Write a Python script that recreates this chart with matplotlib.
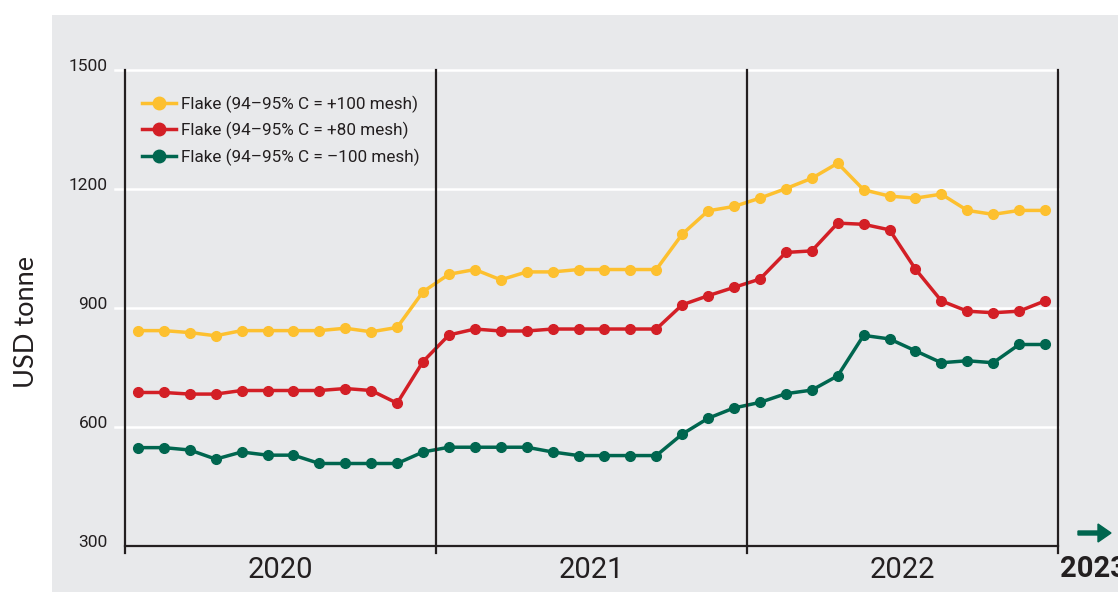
import numpy as np
import matplotlib.pyplot as plt
from matplotlib import font_manager
from matplotlib.patches import Rectangle, FancyArrow
from matplotlib.transforms import blended_transform_factory

# monthly prices, Jan 2020 .. Dec 2022 (USD / tonne)
years = ["2020", "2021", "2022"]
flake_100 = [843, 843, 838, 830, 843, 843, 843, 843, 849, 840, 851, 941,
             985, 997, 971, 991, 991, 997, 997, 997, 997, 1086, 1145, 1156,
             1177, 1201, 1227, 1265, 1198, 1182, 1177, 1187, 1146, 1136, 1146, 1146]
flake_80 = [687, 687, 683, 683, 692, 692, 692, 692, 697, 692, 660, 765,
            832, 847, 842, 842, 847, 847, 847, 847, 847, 908, 931, 952,
            973, 1040, 1044, 1114, 1111, 1097, 998, 918, 892, 888, 892, 918]
flake_m100 = [548, 548, 542, 519, 537, 529, 529, 508, 508, 508, 508, 537,
              549, 549, 549, 549, 537, 528, 528, 528, 528, 582, 622, 648,
              662, 684, 693, 729, 831, 822, 792, 762, 767, 762, 808, 808]
labels = ["Flake (94\u201395% C = +100 mesh)",
          "Flake (94\u201395% C = +80 mesh)",
          "Flake (94\u201395% C = \u2013100 mesh)"]
colors = ["#fdc02f", "#d31f26", "#00664f"]
yticks = [300, 600, 900, 1200, 1500]

names = {f.name for f in font_manager.fontManager.ttflist}
narrow = "Liberation Sans Narrow" if "Liberation Sans Narrow" in names else "Roboto"

bg = "#e8e9eb"
ink = "#231f20"

fig = plt.figure(figsize=(11.18, 5.92), dpi=100, facecolor="white")
fig.patches.append(Rectangle((52 / 1118, 0), 1 - 52 / 1118, 1 - 15 / 592,
                             transform=fig.transFigure, facecolor=bg,
                             edgecolor="none", zorder=-10))

ax = fig.add_axes([125 / 1118, 46 / 592, 933 / 1118, 476 / 592])
ax.set_facecolor(bg)
ax.set_xlim(0, 36)
ax.set_ylim(300, 1500)

x = np.arange(36) + 0.5
for vals, lab, c in zip([flake_100, flake_80, flake_m100], labels, colors):
    ax.plot(x, vals, color=c, lw=2.5, marker="o", ms=7, label=lab, zorder=3)

ytrans = blended_transform_factory(ax.transAxes, ax.transData)
# white gridlines reaching a little left of the axis
for v in yticks:
    if v > 300:
        ax.plot([-10 / 933 * 36, 36], [v, v], color="white", lw=1.8,
                clip_on=False, zorder=1)
    ax.annotate(str(v), xy=(0, v), xycoords=ytrans,
                xytext=(-12.5, -1), textcoords="offset points", ha="right", va="baseline",
                fontsize=12.5, color=ink, family=[narrow, "DejaVu Sans"])

# year separators
for xv in [0, 12, 24, 36]:
    ax.axvline(xv, ymin=-0.015, ymax=1, color=ink, lw=1.6, clip_on=False, zorder=4)

for s in ["top", "right", "left"]:
    ax.spines[s].set_visible(False)
ax.spines["bottom"].set_color(ink)
ax.spines["bottom"].set_linewidth(1.6)
ax.set_xticks([])
ax.set_yticks([])

xtrans = blended_transform_factory(ax.transData, ax.transAxes)
for i, yr in enumerate(years):
    ax.text(12 * i + 6, -0.02, yr, transform=xtrans,
            ha="center", va="top", fontsize=21, color=ink, family=[narrow, "DejaVu Sans"])
fig.text(1060 / 1118, 1 - 555 / 592, "2023", ha="left", va="top", fontsize=21,
         fontweight="bold", color=ink, family=[narrow, "DejaVu Sans"])
fig.patches.append(FancyArrow(
    1078 / 1118, 1 - 533 / 592, 20 / 1118, 0, width=4 / 592, head_width=18 / 592,
    head_length=13 / 1118, length_includes_head=False, transform=fig.transFigure,
    color=colors[2], zorder=5))

fig.text(26 / 1118, 1 - 322 / 592, "USD tonne", rotation=90, ha="center", va="center",
         fontsize=19.5, color=ink, family=["Lato", "DejaVu Sans"])

leg = ax.legend(loc="upper left", bbox_to_anchor=(0.005, 0.972), frameon=False,
                handlelength=2.0, handletextpad=0.3, labelspacing=0.55, numpoints=1,
                borderaxespad=0.3, prop={"family": narrow, "size": 12.3})
for t in leg.get_texts():
    t.set_color(ink)
for h in leg.legend_handles:
    h.set_markersize(9)

fig.savefig("out.png", dpi=100, facecolor="white")
